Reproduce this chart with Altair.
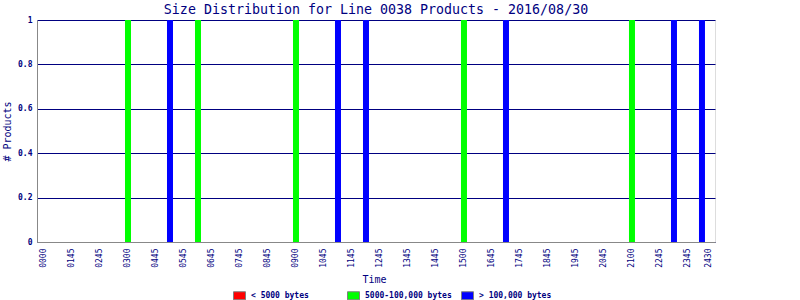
import altair as alt
import pandas as pd

NAVY = "#000080"
FONT = "DejaVu Sans Mono"

# Tick labels of the time axis and the slot each sits on
tick_labels = ["0000", "0145", "0245", "0300", "0445", "0545", "0645", "0745",
               "0845", "0900", "1045", "1145", "1245", "1345", "1445", "1500",
               "1645", "1745", "1845", "1945", "2045", "2100", "2245", "2345", "2430"]
tick_slots = [0, 2, 4, 6, 8, 10, 12, 14, 16, 18, 20, 22, 24, 26, 28, 30,
              32, 34, 36, 38, 40, 42, 44, 46, 47.5]

# Bars: slot, size class, number of products
bar_slots = [6, 9, 11, 18, 21, 23, 30, 33, 42, 45, 47]
bar_class = ["5000-100,000 bytes", "> 100,000 bytes", "5000-100,000 bytes",
             "5000-100,000 bytes", "> 100,000 bytes", "> 100,000 bytes",
             "5000-100,000 bytes", "> 100,000 bytes", "5000-100,000 bytes",
             "> 100,000 bytes", "> 100,000 bytes"]
bar_counts = [1, 1, 1, 1, 1, 1, 1, 1, 1, 1, 1]

classes = ["< 5000 bytes", "5000-100,000 bytes", "> 100,000 bytes"]
class_colors = ["#ff0000", "#00ff00", "#0000ff"]

y_ticks = [0, 0.2, 0.4, 0.6, 0.8, 1]

df = pd.DataFrame({"slot": bar_slots, "cls": bar_class, "count": bar_counts})

slots_js = "[" + ",".join(str(s) for s in tick_slots) + "]"
labels_js = "[" + ",".join("'" + l + "'" for l in tick_labels) + "]"
label_expr = f"{labels_js}[indexof({slots_js}, datum.value)]"

chart = alt.Chart(df).mark_bar(size=6).encode(
    x=alt.X("slot:Q",
            scale=alt.Scale(domain=[-0.5, 47.93], nice=False, zero=False, padding=0),
            axis=alt.Axis(values=tick_slots, labelExpr=label_expr, title="Time",
                          grid=False, ticks=False, labelAngle=270, labelFontSize=8,
                          labelPadding=6, labelFont=FONT, labelColor=NAVY,
                          labelOverlap=False, labelBound=False, labelFlush=False,
                          titleFont=FONT, titleFontSize=10, titleFontWeight="normal",
                          titleColor=NAVY, titleX=337, titleY=40,
                          titleBaseline="alphabetic", titleAlign="center")),
    y=alt.Y("count:Q",
            scale=alt.Scale(domain=[0, 1], nice=False, padding=0),
            axis=alt.Axis(values=y_ticks, format="~g", title="# Products",
                          grid=True, gridColor=NAVY, gridOpacity=1, gridWidth=1,
                          ticks=False, labelPadding=5, labelFontSize=8,
                          labelFontWeight="bold", labelFont=FONT, labelColor=NAVY,
                          labelFlush=False, labelBound=False,
                          titleFont=FONT, titleFontSize=10, titleFontWeight="normal",
                          titleColor=NAVY, titleAngle=270, titleX=-25, titleY=111,
                          titleAlign="center", titleBaseline="bottom")),
    color=alt.Color("cls:N",
                    scale=alt.Scale(domain=classes, range=class_colors),
                    sort=classes,
                    legend=alt.Legend(title=None, orient="none", legendX=197, legendY=270,
                                      direction="horizontal", columns=3,
                                      gridAlign="all", columnPadding=7,
                                      symbolType="M-1.2,-0.8H1.2V0.8H-1.2Z",
                                      symbolSize=100, symbolStrokeColor="#808080",
                                      symbolStrokeWidth=1, symbolOpacity=1,
                                      labelFont=FONT, labelFontSize=8,
                                      labelFontWeight="bold", labelColor=NAVY,
                                      labelOffset=6, padding=0)),
).properties(
    width=678, height=222,
    title=alt.TitleParams("Size Distribution for Line 0038 Products - 2016/08/30",
                          font=FONT, fontSize=13.3, fontWeight="normal", color=NAVY,
                          anchor="middle", baseline="alphabetic", offset=0, dy=11),
    autosize=alt.AutoSizeParams(type="none"),
    padding={"left": 37, "top": 20, "right": 85, "bottom": 58},
).configure_view(
    stroke=NAVY, strokeWidth=1
).configure_axis(
    domainColor=NAVY, domainWidth=1
).configure(background="white")

chart.save("out.html", embed_options={"renderer": "svg", "actions": False})
